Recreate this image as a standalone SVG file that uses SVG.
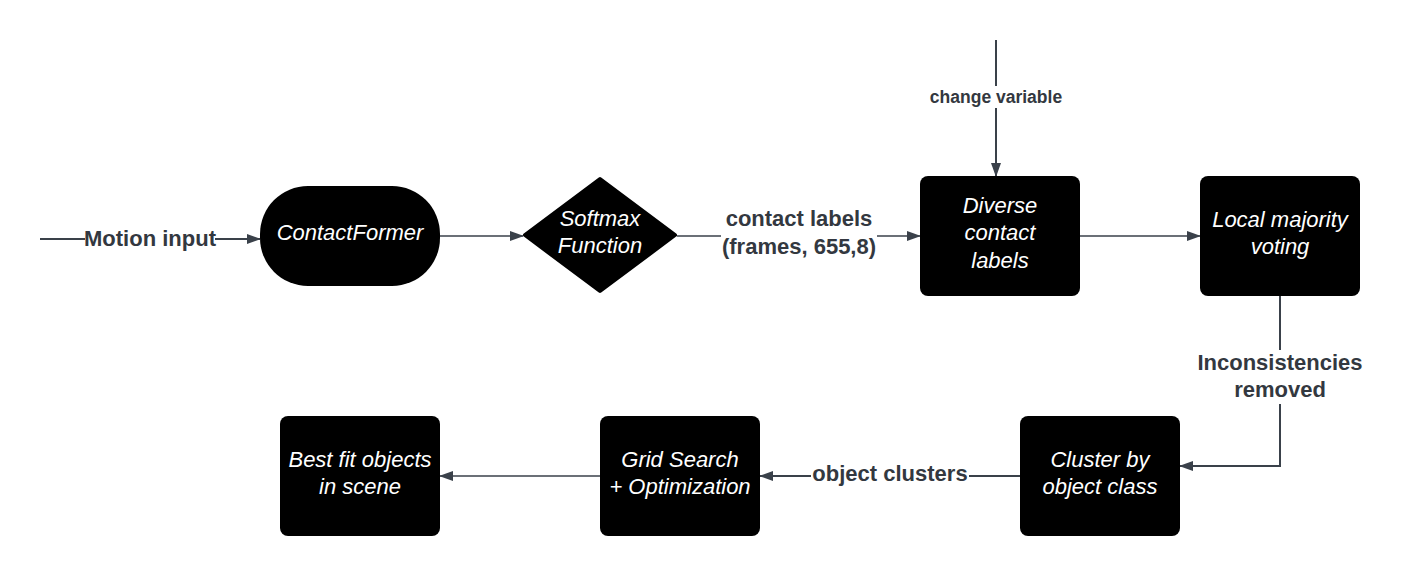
<svg xmlns="http://www.w3.org/2000/svg" width="1404" height="576" viewBox="0 0 1404 576">
<style>
.node{fill:#000;}
.nt{font-family:"Liberation Sans",Arial,sans-serif;font-style:italic;font-size:22px;fill:#fff;text-anchor:middle;}
.ln{stroke:#3a414a;stroke-width:1.5;fill:none;}
.lt{font-family:"Liberation Sans",Arial,sans-serif;font-weight:bold;font-size:22px;fill:#333840;text-anchor:middle;}
.bg{fill:#fff;}
</style>
<defs>
<marker id="ah" markerWidth="14" markerHeight="10" refX="13" refY="5" orient="auto" markerUnits="userSpaceOnUse">
<path d="M0,0 L14,5 L0,10 Z" fill="#3a414a"/>
</marker>
</defs>
<rect width="1404" height="576" fill="#fff"/>
<g id="connectors">
<path class="ln" d="M40,239 H260" style="stroke-width:2" marker-end="url(#ah)"/>
<path class="ln" d="M440,236 H523" marker-end="url(#ah)"/>
<path class="ln" d="M677,236 H920" marker-end="url(#ah)"/>
<path class="ln" d="M1080,236 H1200" marker-end="url(#ah)"/>
<path class="ln" d="M996,40 V176" style="stroke-width:2" marker-end="url(#ah)"/>
<path class="ln" d="M1280,296 V466 H1180" style="stroke-width:2" marker-end="url(#ah)"/>
<path class="ln" d="M1020,476 H760" style="stroke-width:2" marker-end="url(#ah)"/>
<path class="ln" d="M600,476 H440" marker-end="url(#ah)"/>
<rect class="bg" x="85" y="224" width="130" height="28"/>
<text class="lt" x="150" y="246">Motion input</text>
<rect class="bg" x="721" y="205" width="156" height="56"/>
<text class="lt" x="799" y="226">contact labels</text>
<text class="lt" x="799" y="254">(frames, 655,8)</text>
<rect class="bg" x="927" y="86" width="138" height="22"/>
<text class="lt" x="996" y="103" style="font-size:17.5px">change variable</text>
<rect class="bg" x="1194" y="350" width="172" height="54"/>
<text class="lt" x="1280" y="370">Inconsistencies</text>
<text class="lt" x="1280" y="397">removed</text>
<rect class="bg" x="811" y="460" width="158" height="26"/>
<text class="lt" x="890" y="481">object clusters</text>
</g>
<g id="contactformer">
<rect class="node" x="260" y="186" width="180" height="100" rx="48" ry="48"/>
<text class="nt" x="350" y="240">ContactFormer</text>
</g>
<g id="softmax">
<path class="node" d="M600,179 L675,235 L600,291 L525,235 Z" stroke="#000" stroke-width="4" stroke-linejoin="round"/>
<text class="nt" x="600" y="226">Softmax</text>
<text class="nt" x="600" y="253">Function</text>
</g>
<g id="diverse">
<rect class="node" x="920" y="176" width="160" height="120" rx="8"/>
<text class="nt" x="1000" y="213">Diverse</text>
<text class="nt" x="1000" y="240">contact</text>
<text class="nt" x="1000" y="268">labels</text>
</g>
<g id="voting">
<rect class="node" x="1200" y="176" width="160" height="120" rx="8"/>
<text class="nt" x="1280" y="227">Local majority</text>
<text class="nt" x="1280" y="254">voting</text>
</g>
<g id="cluster">
<rect class="node" x="1020" y="416" width="160" height="120" rx="8"/>
<text class="nt" x="1100" y="467">Cluster by</text>
<text class="nt" x="1100" y="494">object class</text>
</g>
<g id="gridsearch">
<rect class="node" x="600" y="416" width="160" height="120" rx="8"/>
<text class="nt" x="680" y="467">Grid Search</text>
<text class="nt" x="680" y="494">+ Optimization</text>
</g>
<g id="bestfit">
<rect class="node" x="280" y="416" width="160" height="120" rx="8"/>
<text class="nt" x="360" y="467">Best fit objects</text>
<text class="nt" x="360" y="494">in scene</text>
</g>
</svg>
